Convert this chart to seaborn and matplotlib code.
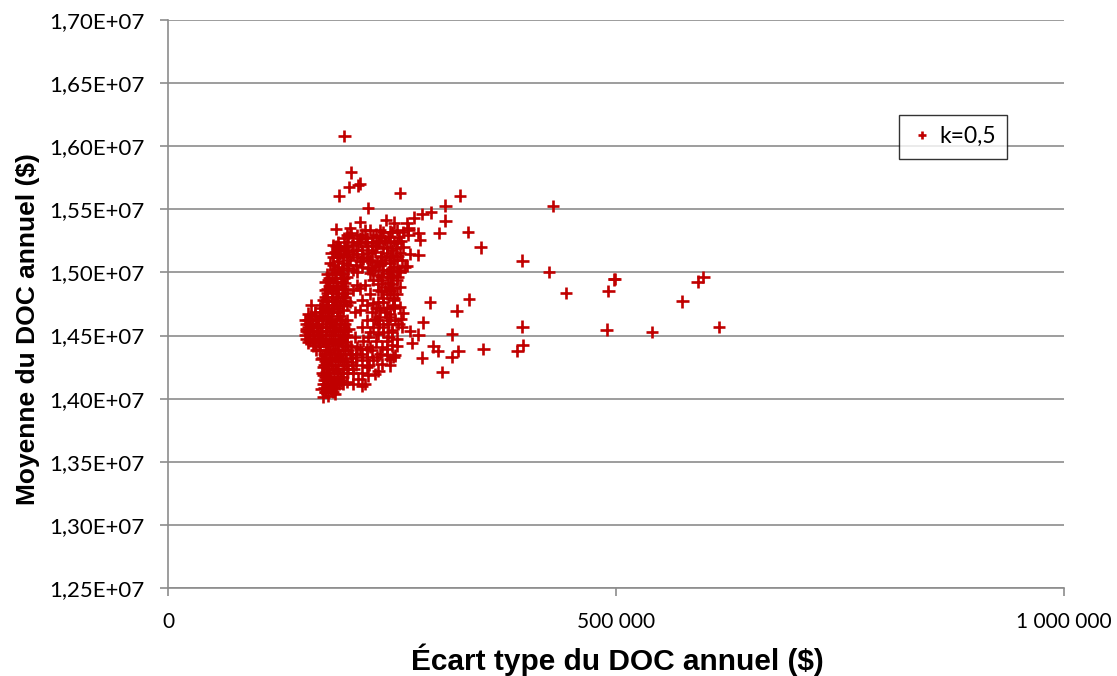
import matplotlib
matplotlib.use("Agg")
import matplotlib.pyplot as plt
import numpy as np
import pandas as pd
import seaborn as sns
from matplotlib.ticker import FixedLocator, FuncFormatter

# ---------------------------------------------------------------------------
# Données : écart type (milliers de $) et moyenne (millions de $) du DOC annuel
# ---------------------------------------------------------------------------
serie = "k=0,5"

# points isolés au-dessus du nuage
haut_x = [196.8, 204.0, 202.0, 212.0, 214.0, 191.0, 259.0, 223.0, 309.5, 293.5, 284.0, 274.6,
          309.5, 302.8, 243.0, 214.3, 187.5, 252.2, 266.4, 268.2, 279.4, 281.3, 270.0, 279.4, 266.4]
haut_y = [16.080, 15.793, 15.677, 15.690, 15.703, 15.608, 15.629, 15.510, 15.530, 15.475, 15.462, 15.435,
          15.410, 15.311, 15.417, 15.400, 15.345, 15.395, 15.390, 15.351, 15.311, 15.257, 15.146, 15.138, 15.051]

# partie supérieure du nuage principal
nuage_sup_x = [203.2, 204.3, 219.9, 225.5, 201.3, 210.6, 229.2, 236.6, 247.8, 255.2, 268.3, 268.3,
               184.6, 192.0, 197.6, 205.0, 212.5, 219.9, 227.3, 234.8, 242.2, 247.8, 255.2, 262.7,
               188.3, 195.7, 203.2, 210.6, 218.0, 225.5, 232.9, 244.1, 251.5, 259.0, 182.7,
               244.1, 249.7, 216.2, 223.6, 231.1, 201.3, 186.4, 260.8, 264.5,
               180.8, 190.1, 216.2, 223.6, 231.1, 238.5, 247.8, 255.2, 195.7, 201.3, 251.5,
               182.7, 192.0, 210.6, 225.5, 234.8, 244.1, 251.5, 199.4, 259.0]
nuage_sup_y = [15.351, 15.311, 15.338, 15.338, 15.279, 15.298, 15.284, 15.338, 15.324, 15.338, 15.338, 15.298,
               15.218, 15.192, 15.205, 15.218, 15.231, 15.245, 15.218, 15.231, 15.258, 15.245, 15.231, 15.205,
               15.125, 15.139, 15.099, 15.125, 15.112, 15.099, 15.085, 15.152, 15.125, 15.152, 15.152,
               15.205, 15.178, 15.178, 15.152, 15.165, 15.165, 15.165, 15.099, 15.046,
               15.072, 15.046, 15.046, 15.032, 15.046, 15.072, 15.072, 15.046, 15.072, 15.032, 15.046,
               14.993, 14.993, 15.006, 14.993, 14.979, 14.993, 14.979, 14.966, 15.006]

# partie centrale du nuage principal
nuage_mil_x = [179.0, 188.3, 197.6, 210.6, 219.9, 229.2, 238.5, 245.9, 255.2, 259.0,
               175.3, 184.6, 193.9, 206.9, 214.3, 225.5, 234.8, 244.1, 251.5, 180.8, 242.2, 247.8, 255.2,
               173.4, 182.7, 192.0, 203.2, 216.2, 229.2, 240.4, 251.5, 190.1, 234.8, 251.5,
               159.3, 175.3, 184.6, 195.7, 208.7, 214.3, 227.3, 236.6, 247.8, 179.0, 199.4, 221.8, 259.0,
               156.7, 164.1, 177.1, 188.3, 199.4, 221.8, 232.9, 244.1, 253.4, 242.2, 231.1, 173.4, 160.4, 152.9, 167.8,
               154.1, 162.2, 171.5, 180.8, 192.0, 201.3, 216.2, 229.2, 240.4, 249.7, 180.8, 192.0, 257.1, 154.8,
               156.7, 166.0, 175.3, 184.6, 195.7, 208.7, 223.6, 234.8, 245.9, 255.2, 184.6, 158.5]
nuage_mil_y = [14.940, 14.926, 14.913, 14.900, 14.900, 14.940, 14.940, 14.913, 14.940, 14.886,
               14.860, 14.860, 14.833, 14.860, 14.873, 14.833, 14.860, 14.833, 14.873, 14.886, 14.886, 14.860, 14.833,
               14.780, 14.780, 14.767, 14.767, 14.780, 14.754, 14.767, 14.741, 14.807, 14.767, 14.780,
               14.741, 14.701, 14.714, 14.701, 14.688, 14.701, 14.688, 14.701, 14.674, 14.741, 14.741, 14.741, 14.727,
               14.674, 14.661, 14.634, 14.634, 14.621, 14.621, 14.621, 14.621, 14.621, 14.688, 14.634, 14.647, 14.634, 14.621, 14.621,
               14.595, 14.581, 14.568, 14.568, 14.555, 14.555, 14.568, 14.568, 14.568, 14.542, 14.608, 14.595, 14.595, 14.555,
               14.528, 14.515, 14.502, 14.502, 14.489, 14.489, 14.489, 14.515, 14.489, 14.475, 14.542, 14.502]

# partie inférieure du nuage principal
nuage_inf_x = [158.5, 169.7, 179.0, 188.3, 199.4, 210.6, 225.5, 238.5, 249.7, 173.4, 192.0, 167.8, 162.2,
               169.7, 180.8, 192.0, 203.2, 216.2, 227.3, 236.6, 184.6, 195.7, 175.3, 188.3, 244.1, 232.9, 251.5,
               171.5, 182.7, 193.9, 205.0, 216.2, 229.2, 238.5, 247.8, 177.1, 190.1,
               173.4, 184.6, 195.7, 206.9, 221.8, 234.8, 177.1, 188.3, 231.1, 223.6,
               173.4, 180.8, 190.1, 199.4, 212.5, 216.2, 173.4, 182.7, 195.7, 206.9, 177.1, 188.3, 219.9,
               175.3, 182.7, 179.0, 179.0, 171.5, 186.4, 173.4]
nuage_inf_y = [14.462, 14.449, 14.435, 14.435, 14.422, 14.409, 14.409, 14.409, 14.422, 14.462, 14.462, 14.475, 14.422,
               14.382, 14.369, 14.356, 14.356, 14.356, 14.382, 14.356, 14.396, 14.382, 14.343, 14.329, 14.343, 14.329, 14.329,
               14.316, 14.303, 14.303, 14.290, 14.303, 14.303, 14.276, 14.316, 14.276, 14.263,
               14.250, 14.237, 14.237, 14.237, 14.250, 14.223, 14.210, 14.210, 14.197, 14.184,
               14.184, 14.170, 14.170, 14.130, 14.157, 14.104, 14.117, 14.104, 14.117, 14.117, 14.144, 14.130, 14.117,
               14.051, 14.064, 14.024, 14.091, 14.078, 14.038, 14.011]

# colonne dense à gauche (écarts types 150-210 k$)
colonne_x = [176, 184,
             174, 181, 188,
             177, 185, 191,
             174, 182, 193,
             176, 185, 195,
             172, 180, 192, 200,
             178, 188, 201,
             174, 182, 196, 210,
             176, 186, 199,
             172, 180, 192, 205,
             174, 186, 198, 210,
             165, 176, 190, 201,
             168, 178, 194, 204,
             156, 164, 176, 186, 197,
             154, 162, 172, 182, 194,
             153, 162, 170, 180, 190, 200,
             154, 162, 170, 178, 188, 198,
             157, 165, 176, 186, 196,
             158, 167, 176, 186, 197,
             156, 165, 183, 194,
             160, 170, 180, 192,
             164, 172, 182, 190,
             170, 179, 189,
             172, 185, 195,
             176, 187, 198,
             175, 183, 196,
             178, 188, 200,
             178, 190, 198,
             180, 187, 195,
             176, 184, 193,
             180, 188, 196,
             178, 186, 195]
colonne_y = [14.055, 14.055,
             14.085, 14.085, 14.085,
             14.115, 14.115, 14.115,
             14.145, 14.145, 14.145,
             14.175, 14.175, 14.175,
             14.205, 14.205, 14.205, 14.205,
             14.235, 14.235, 14.235,
             14.265, 14.265, 14.265, 14.265,
             14.295, 14.295, 14.295,
             14.325, 14.325, 14.325, 14.325,
             14.355, 14.355, 14.355, 14.355,
             14.385, 14.385, 14.385, 14.385,
             14.415, 14.415, 14.415, 14.415,
             14.445, 14.445, 14.445, 14.445, 14.445,
             14.475, 14.475, 14.475, 14.475, 14.475,
             14.505, 14.505, 14.505, 14.505, 14.505, 14.505,
             14.535, 14.535, 14.535, 14.535, 14.535, 14.535,
             14.565, 14.565, 14.565, 14.565, 14.565,
             14.595, 14.595, 14.595, 14.595, 14.595,
             14.625, 14.625, 14.625, 14.625,
             14.655, 14.655, 14.655, 14.655,
             14.685, 14.685, 14.685, 14.685,
             14.715, 14.715, 14.715,
             14.745, 14.745, 14.745,
             14.775, 14.775, 14.775,
             14.805, 14.805, 14.805,
             14.835, 14.835, 14.835,
             14.865, 14.865, 14.865,
             14.895, 14.895, 14.895,
             14.925, 14.925, 14.925,
             14.955, 14.955, 14.955,
             14.985, 14.985, 14.985]

# haut du nuage et lobe droit
lobe_x = [186, 194, 206, 228,
          184, 200, 210, 236,
          190, 214, 228,
          184, 200, 222, 238,
          192, 206, 216,
          190, 198, 210, 228,
          188, 200, 222, 232,
          190, 206, 214, 228,
          196, 214, 222,
          200, 216, 232,
          240, 250, 262,
          238, 246, 258,
          236, 252, 260,
          240, 254,
          238, 248, 256,
          242, 252,
          240, 248, 258,
          238, 248, 256,
          234, 250,
          238, 248,
          240, 252,
          232, 244, 252,
          236, 248,
          236, 246,
          226, 240, 250,
          218, 232, 244,
          214, 222, 244,
          210, 222,
          200, 224,
          206, 216]
lobe_y = [15.02, 15.02, 15.02, 15.02,
          15.06, 15.06, 15.06, 15.06,
          15.09, 15.09, 15.09,
          15.12, 15.12, 15.12, 15.12,
          15.15, 15.15, 15.15,
          15.18, 15.18, 15.18, 15.18,
          15.21, 15.21, 15.21, 15.21,
          15.24, 15.24, 15.24, 15.24,
          15.27, 15.27, 15.27,
          15.30, 15.30, 15.30,
          15.32, 15.32, 15.32,
          15.28, 15.28, 15.28,
          15.25, 15.25, 15.25,
          15.19, 15.19,
          15.13, 15.13, 15.13,
          15.10, 15.10,
          15.02, 15.02, 15.02,
          14.96, 14.96, 14.96,
          14.91, 14.91,
          14.85, 14.85,
          14.80, 14.80,
          14.72, 14.72, 14.72,
          14.65, 14.65,
          14.59, 14.59,
          14.53, 14.53, 14.53,
          14.46, 14.46, 14.46,
          14.39, 14.39, 14.39,
          14.33, 14.33,
          14.27, 14.27,
          14.20, 14.20]

# points à droite du nuage
droite_x = [292.4, 284.3, 262.0, 260.1, 270.1, 279.4, 272.3, 296.1, 301.0, 283.5, 306.2, 252.0, 260.8, 255.9, 253.3, 247.8]
droite_y = [14.762, 14.605, 14.676, 14.631, 14.536, 14.507, 14.440, 14.414, 14.377, 14.325, 14.210, 14.735, 14.567, 14.420, 14.342, 14.263]

# points éloignés (forts écarts types)
loin_x = [326.0, 430.0, 334.5, 349.0, 395.5, 425.5, 498.5, 498.0, 491.5, 444.0, 597.5, 591.0, 574.0,
          336.0, 322.0, 395.6, 489.6, 540.0, 615.0, 317.0, 395.8, 390.0, 352.0, 324.0, 316.6]
loin_y = [15.608, 15.528, 15.321, 15.199, 15.093, 15.005, 14.950, 14.945, 14.855, 14.836, 14.963, 14.927, 14.770,
          14.786, 14.698, 14.571, 14.547, 14.526, 14.566, 14.510, 14.424, 14.376, 14.392, 14.376, 14.329]

x_ticks = [0, 500_000, 1_000_000]
y_ticks = [1.25e7, 1.30e7, 1.35e7, 1.40e7, 1.45e7, 1.50e7, 1.55e7, 1.60e7, 1.65e7, 1.70e7]

ecart = np.concatenate([haut_x, nuage_sup_x, nuage_mil_x, nuage_inf_x, colonne_x, lobe_x,
                        droite_x, loin_x]) * 1e3
moyenne = np.concatenate([haut_y, nuage_sup_y, nuage_mil_y, nuage_inf_y, colonne_y, lobe_y,
                          droite_y, loin_y]) * 1e6
df = pd.DataFrame({"ecart": ecart, "moyenne": moyenne, "serie": serie})

# ---------------------------------------------------------------------------
# Mise en forme
# ---------------------------------------------------------------------------
sns.set_theme(style="white")
plt.rcParams["font.family"] = ["Lato", "DejaVu Sans"]
plt.rcParams["text.color"] = "black"
plt.rcParams["axes.labelcolor"] = "black"

gris = "#8c8c8c"
rouge = "#C00000"

fig = plt.figure(figsize=(11.17, 6.76), dpi=100)
ax = fig.add_axes([168 / 1117, 1 - 588 / 676, 896 / 1117, 568 / 676])

sns.scatterplot(data=df, x="ecart", y="moyenne", hue="serie", palette=[rouge],
                marker="+", s=80, linewidth=1.9, ax=ax, zorder=3)

ax.set_xlim(x_ticks[0], x_ticks[-1])
ax.set_ylim(y_ticks[0], y_ticks[-1])
ax.xaxis.set_major_locator(FixedLocator(x_ticks))
ax.yaxis.set_major_locator(FixedLocator(y_ticks))
ax.xaxis.set_major_formatter(FuncFormatter(lambda v, p: f"{int(round(v)):,}".replace(",", "\u00a0")))
ax.yaxis.set_major_formatter(FuncFormatter(lambda v, p: f"{v / 1e7:.2f}".replace(".", ",") + "E+07"))

ax.grid(axis="y", color=gris, linewidth=1.2)
ax.grid(axis="x", visible=False)
ax.set_axisbelow(True)

for side in ("top", "right"):
    ax.spines[side].set_visible(False)
for side in ("left", "bottom"):
    ax.spines[side].set_color(gris)
    ax.spines[side].set_linewidth(1.2)

ax.tick_params(axis="both", which="major", direction="out", length=6, width=1.2,
               color=gris, labelcolor="black")
ax.tick_params(axis="y", pad=11, left=True, labelsize=16)
ax.tick_params(axis="x", pad=11, bottom=True, labelsize=15)

lab_family = ["Liberation Sans", "DejaVu Sans"]
ax.set_xlabel("Écart type du DOC annuel ($)", family=lab_family, fontsize=21.5,
              fontweight="bold", color="black")
ax.set_ylabel("Moyenne du DOC annuel ($)", family=lab_family, fontsize=19,
              fontweight="bold", color="black")
ax.xaxis.set_label_coords(0.502, -0.098)
ax.yaxis.set_label_coords(-0.143, 0.455)

leg = ax.legend(loc="upper left", bbox_to_anchor=(0.816, 0.833), frameon=True, fancybox=False,
                fontsize=16.5, handletextpad=0.25, borderpad=0.5, markerscale=0.65,
                handlelength=1.0, borderaxespad=0)
leg.get_frame().set_edgecolor("black")
leg.get_frame().set_linewidth(1.0)
leg.get_frame().set_facecolor("white")
for txt in leg.get_texts():
    txt.set_color("black")
leg.set_zorder(5)

fig.savefig("out.png", dpi=100)
